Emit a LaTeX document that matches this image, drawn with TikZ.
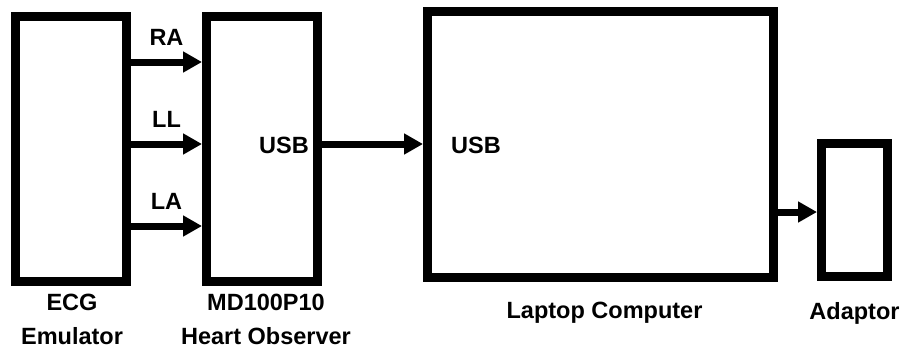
\documentclass[tikz,border=0pt]{standalone}
\usepackage{fontspec}
\setmainfont{Liberation Sans}
\usetikzlibrary{positioning,arrows.meta}
\tikzset{
	blk/.style={draw, line width=9pt, inner sep=0pt},
	sig/.style={line width=7pt, -{Triangle[length=19pt,width=20pt]}},
	lbl/.style={font=\fontsize{23.5}{34}\selectfont\bfseries, align=center},
}
\begin{document}
\begin{tikzpicture}[x=1pt,y=-1pt]
	\useasboundingbox (0,0) rectangle (904,349);
	% boxes
	\node[blk, minimum width=111pt, minimum height=265pt] (ecg) at (71,149) {};
	\node[blk, minimum width=111pt, minimum height=265pt] (md) at (262,149) {};
	\node[blk, minimum width=346pt, minimum height=266pt] (laptop) at (600.5,144) {};
	\node[blk, minimum width=66pt, minimum height=133pt] (adaptor) at (854.5,210) {};
	% leads
	\draw[sig] ([yshift=87pt]ecg.east) -- ([yshift=87pt]md.west) node[lbl, midway, above=10pt] {RA};
	\draw[sig] ([yshift=5pt]ecg.east) -- ([yshift=5pt]md.west) node[lbl, midway, above=10pt] {LL};
	\draw[sig] ([yshift=-77pt]ecg.east) -- ([yshift=-77pt]md.west) node[lbl, midway, above=10pt] {LA};
	% usb link
	\node[lbl] (mdusb) at ([xshift=-38pt,yshift=4pt]md.east) {USB};
	\node[lbl] (pcusb) at ([xshift=53pt,yshift=-1pt]laptop.west) {USB};
	\draw[sig] ([yshift=5pt]md.east) -- (laptop.west);
	\draw[sig] ([yshift=-68pt]laptop.east) -- ([yshift=-2pt]adaptor.west);
	% captions
	\node[lbl, below=5pt of ecg, xshift=1pt] (ecgcap) {ECG\\Emulator};
	\node[lbl, below=5pt of md, xshift=4pt] (mdcap) {MD100P10\\Heart Observer};
	\node[lbl, below=17pt of laptop, xshift=4pt] (laptopcap) {Laptop Computer};
	\node[lbl, below=18pt of adaptor] (adaptorcap) {Adaptor};
\end{tikzpicture}
\end{document}
